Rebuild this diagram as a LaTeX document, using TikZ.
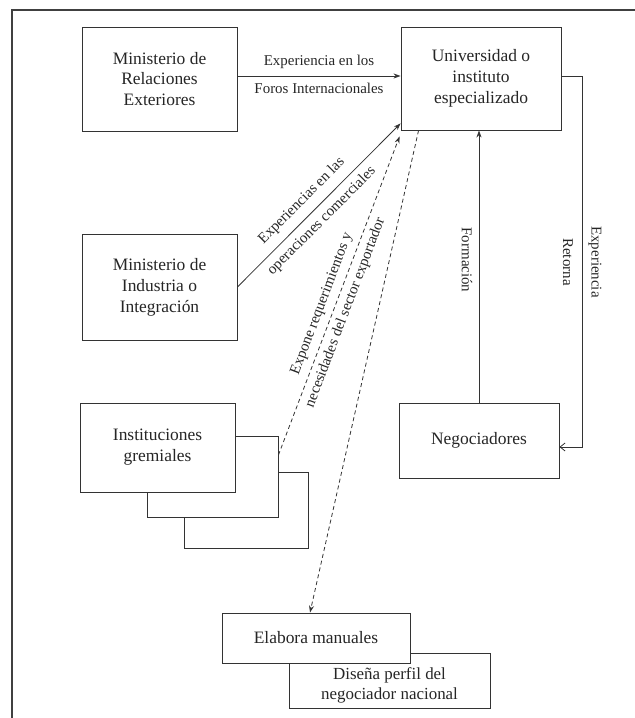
\documentclass[tikz,border=0pt]{standalone}
\usepackage{fontspec}
\setmainfont{Liberation Serif}
\usetikzlibrary{arrows.meta,calc}
\begin{document}
\begin{tikzpicture}[x=1bp,y=-1bp,
  box/.style={draw=black!80, line width=0.9bp, fill=white, align=center, inner sep=0pt,
    font=\fontsize{17.5}{21}\selectfont, text=black!85},
  lbl/.style={font=\fontsize{15}{18}\selectfont, text=black!85, inner sep=1bp},
  arr/.style={draw=black!80, line width=0.8bp, -{Stealth[length=7bp,width=5bp]}},
  dsh/.style={arr, dash pattern=on 4bp off 3bp}]
\useasboundingbox (0,0) rectangle (635,718);
\draw[line width=1.5bp, black!75] (635,10) -- (12,10) -- (12,718);

\node[box, minimum width=155bp, minimum height=104bp] (mre) at (159.5,79) {Ministerio de\\Relaciones\\Exteriores};
\node[box, minimum width=160bp, minimum height=103bp] (uni) at (481,78.5) {Universidad o\\instituto\\especializado};
\node[box, minimum width=155bp, minimum height=106bp] (mi) at (159.5,287) {Ministerio de\\Industria o\\Integración};
\node[box, minimum width=160bp, minimum height=75bp] (neg) at (479,440.5) {Negociadores};
\node[box, minimum width=124bp, minimum height=76bp] (inst3) at (246,510) {};
\node[box, minimum width=131bp, minimum height=81bp] (inst2) at (212.5,476.5) {};
\node[box, minimum width=155bp, minimum height=89bp] (inst) at (157.5,447.5) {Instituciones\\gremiales};
\node[box, minimum width=201bp, minimum height=55bp] (dis) at (389.5,680.5) {};
\node[align=center, inner sep=0pt, font=\fontsize{17}{20}\selectfont, text=black!85] (distext) at ($(dis.center)+(0,5)$) {Diseña perfil del\\negociador nacional};
\node[box, minimum width=188bp, minimum height=50bp] (elab) at (316,638) {Elabora manuales};

% MRE -> Universidad
\draw[arr] ($(mre.east)+(0,-3)$) -- ($(uni.west)+(0,-2.5)$)
  node[lbl, midway, above=6bp] {Experiencia en los}
  node[lbl, midway, below=6bp] {Foros Internacionales};

% MI -> Universidad
\draw[arr] (mi.east) -- ($(uni.south west)+(0,-7)$)
  node[lbl, pos=.46, sloped, above=7bp] {Experiencias en las}
  node[lbl, pos=.46, sloped, below=5bp] {operaciones comerciales};

% Instituciones -> Universidad
\draw[dsh] ($(inst2.east)+(0,-21.5)$) -- ($(uni.south west)+(-1,6)$)
  node[lbl, pos=.46, sloped, above=5bp] {Expone requerimientos y}
  node[lbl, pos=.46, sloped, below=4bp] {necesidades del sector exportador};

% Universidad -> Elabora
\draw[dsh] ($(uni.south west)+(18,0)$) -- ($(elab.north)+(-6,0)$);

% Negociadores -> Universidad
\draw[arr] (neg.north) -- (neg.north |- uni.south);
\node[lbl, rotate=-90] (lf) at (467,260) {Formación};

% Universidad -> Negociadores (loop)
\coordinate (rc) at (582,76);
\draw[draw=black!80, line width=0.8bp, -{Straight Barb[length=5bp,width=8bp]}]
  ($(uni.east)+(0,-2.5)$) -- (rc) |- ($(neg.east)+(0,6.5)$);
\node[lbl, rotate=-90] (le) at (595,262) {Experiencia};
\node[lbl, rotate=-90] (lr) at (568,262) {Retorna};
\end{tikzpicture}
\end{document}
